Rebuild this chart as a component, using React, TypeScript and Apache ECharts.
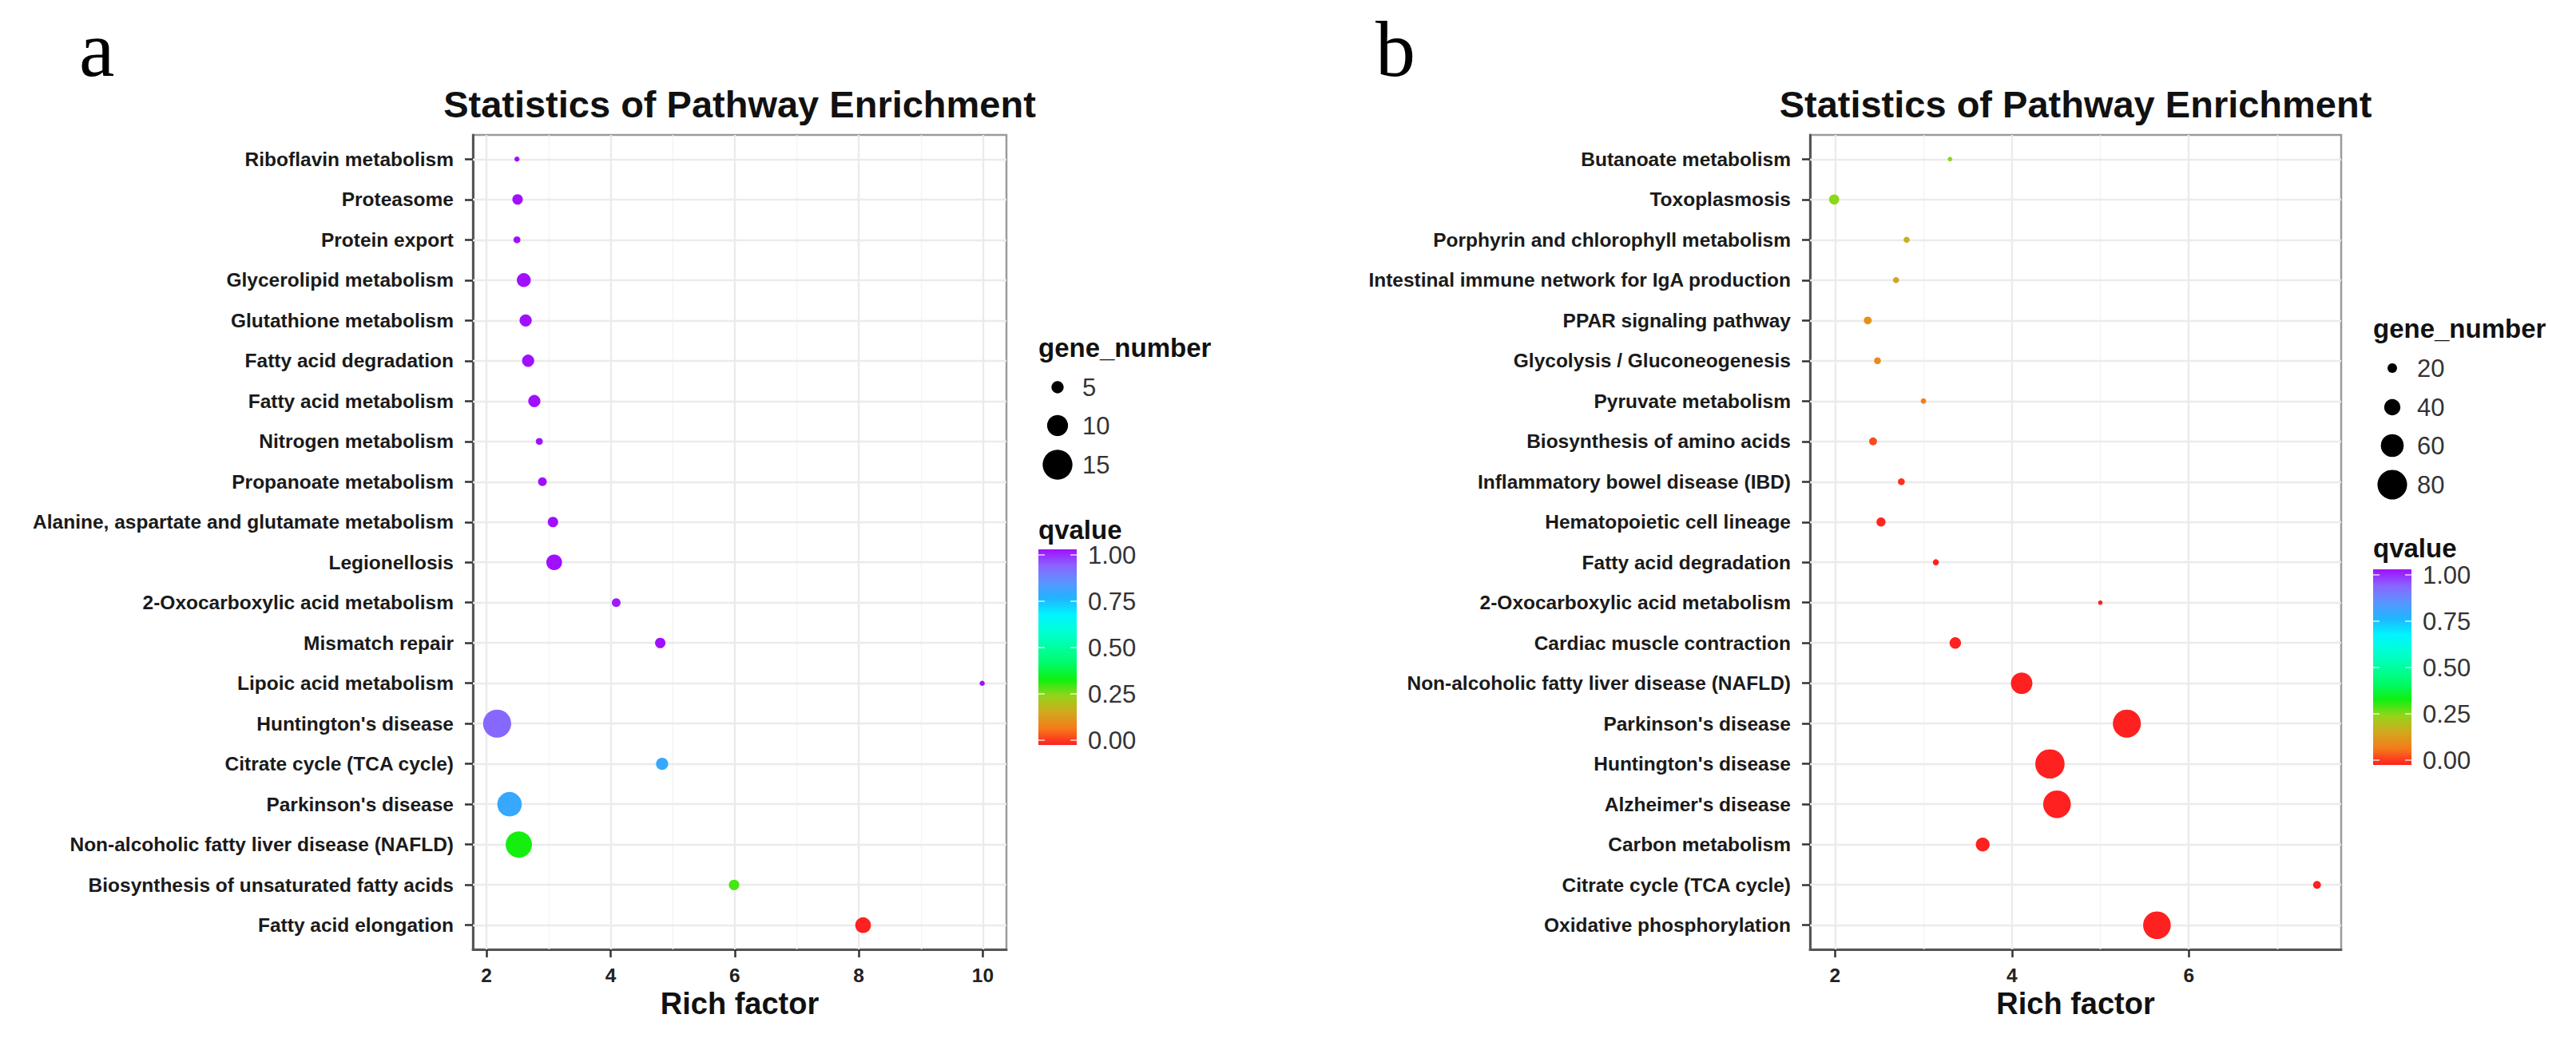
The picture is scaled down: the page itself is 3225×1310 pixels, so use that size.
import React, { useEffect, useRef } from "react";
import * as echarts from "echarts";

// ---------------- data ----------------
const categoriesA = [
  "Riboflavin metabolism",
  "Proteasome",
  "Protein export",
  "Glycerolipid metabolism",
  "Glutathione metabolism",
  "Fatty acid degradation",
  "Fatty acid metabolism",
  "Nitrogen metabolism",
  "Propanoate metabolism",
  "Alanine, aspartate and glutamate metabolism",
  "Legionellosis",
  "2-Oxocarboxylic acid metabolism",
  "Mismatch repair",
  "Lipoic acid metabolism",
  "Huntington's disease",
  "Citrate cycle (TCA cycle)",
  "Parkinson's disease",
  "Non-alcoholic fatty liver disease (NAFLD)",
  "Biosynthesis of unsaturated fatty acids",
  "Fatty acid elongation",
];
const richFactorA = [2.49, 2.5, 2.49, 2.6, 2.63, 2.67, 2.77, 2.85, 2.9, 3.07, 3.09, 4.09, 4.8, 9.99, 2.17, 4.83, 2.37, 2.52, 5.99, 8.07];
const geneNumberA = [1, 4, 2, 6, 5, 5, 5, 2, 3, 4, 7, 3, 4, 1, 14, 5, 12, 13, 4, 7];
const qvalueA = [1, 1, 1, 1, 1, 1, 1, 1, 1, 1, 1, 0.99, 1, 1, 0.91, 0.78, 0.78, 0.33, 0.3, 0.0];

const categoriesB = [
  "Butanoate metabolism",
  "Toxoplasmosis",
  "Porphyrin and chlorophyll metabolism",
  "Intestinal immune network for IgA production",
  "PPAR signaling pathway",
  "Glycolysis / Gluconeogenesis",
  "Pyruvate metabolism",
  "Biosynthesis of amino acids",
  "Inflammatory bowel disease (IBD)",
  "Hematopoietic cell lineage",
  "Fatty acid degradation",
  "2-Oxocarboxylic acid metabolism",
  "Cardiac muscle contraction",
  "Non-alcoholic fatty liver disease (NAFLD)",
  "Parkinson's disease",
  "Huntington's disease",
  "Alzheimer's disease",
  "Carbon metabolism",
  "Citrate cycle (TCA cycle)",
  "Oxidative phosphorylation",
];
const richFactorB = [3.3, 1.99, 2.81, 2.69, 2.37, 2.48, 3.0, 2.43, 2.75, 2.52, 3.14, 5.0, 3.36, 4.11, 5.3, 4.43, 4.51, 3.67, 7.45, 5.64];
const geneNumberB = [5, 22, 10, 10, 15, 12, 8, 15, 12, 19, 10, 5, 26, 56, 75, 79, 74, 33, 15, 74];
const qvalueB = [0.255, 0.255, 0.18, 0.16, 0.125, 0.11, 0.095, 0.04, 0.015, 0.005, 0, 0, 0, 0, 0, 0, 0, 0, 0, 0];

const xMajorTicksA = [2, 4, 6, 8, 10];
const xMinorTicksA = [3, 5, 7, 9];
const xMajorTicksB = [2, 4, 6];
const xMinorTicksB = [3, 5, 7];

const sizeBreaksA = [5, 10, 15];
const sizeBreaksB = [20, 40, 60, 80];
const qvalueBreaks = [1, 0.75, 0.5, 0.25, 0];

const qvalueColors = [
  "#FF2020", "#F57A1A", "#D2A81E", "#96D41A", "#10F010", "#00FA6A", "#00FFA0",
  "#00FFD6", "#00F4FF", "#20B4FF", "#5C94FF", "#8A64FF", "#A010FF",
];

// ---------------- styles / layout ----------------
const FONT = '"Liberation Sans", Arial, Helvetica, sans-serif';
const SERIF = '"Liberation Serif", "Times New Roman", serif';
const SIZE_A = { base: 4.3, slope: 2.2 };
const SIZE_B = { base: 3.5, slope: 0.42 };

const PANEL_A = {
  left: 592, top: 169, width: 668, height: 1020,
  legendX: 1300, sizeTitleY: 435.6, sizeRowY: [485, 533, 582],
  qTitleY: 663.6, barTop: 688, barH: 245, q1Y: 695, q0Y: 927,
  letter: "a", letterX: 99,
};
const PANEL_B = {
  left: 2266, top: 169, width: 665, height: 1020,
  legendX: 2971, sizeTitleY: 411.6, sizeRowY: [461, 510, 558, 607],
  qTitleY: 686.6, barTop: 713, barH: 245, q1Y: 720, q0Y: 952,
  letter: "b", letterX: 1722,
};

function sizeOf(g: number, s: { base: number; slope: number }) {
  return s.base + s.slope * g;
}

function xRange(arr: number[]) {
  const mn = Math.min(...arr);
  const mx = Math.max(...arr);
  const pad = 0.05 * (mx - mn);
  return [mn - pad, mx + pad];
}

function gridLineData(cats: string[], major: number[], minor: number[]) {
  const majorStyle = { color: "#EBEBEB", width: 2.4, type: "solid" };
  const minorStyle = { color: "#F4F4F4", width: 1.4, type: "solid" };
  return [
    ...minor.map((v) => ({ xAxis: v, lineStyle: minorStyle })),
    ...major.map((v) => ({ xAxis: v, lineStyle: majorStyle })),
    ...cats.map((_, i) => ({ yAxis: i, lineStyle: majorStyle })),
  ];
}

function buildAxes(idx: number, cats: string[], rich: number[], major: number[]) {
  const [mn, mx] = xRange(rich);
  const yIdx = cats.map((_, i) => i);
  const xAxis = {
    gridIndex: idx,
    type: "value",
    min: mn,
    max: mx,
    axisLine: { show: true, onZero: false, lineStyle: { color: "#555555", width: 3 } },
    axisTick: { show: true, length: 10, customValues: major, lineStyle: { color: "#333333", width: 2.5 } },
    axisLabel: {
      customValues: major,
      fontSize: 24.5,
      fontWeight: "bold",
      fontFamily: FONT,
      color: "#222222",
      margin: 20,
      lineHeight: 24,
    },
    splitLine: { show: false },
    name: "Rich factor",
    nameLocation: "middle",
    nameGap: 47,
    nameTextStyle: { fontSize: 38, fontWeight: "bold", fontFamily: FONT, color: "#111111", lineHeight: 38 },
  };
  const yAxis = {
    gridIndex: idx,
    type: "value",
    inverse: true,
    min: -0.6,
    max: cats.length - 1 + 0.6,
    axisLine: { show: true, onZero: false, lineStyle: { color: "#555555", width: 3 } },
    axisTick: { show: true, length: 10, customValues: yIdx, lineStyle: { color: "#333333", width: 2.5 } },
    axisLabel: {
      customValues: yIdx,
      formatter: (v: number) => cats[Math.round(v)] ?? "",
      fontSize: 24.5,
      fontWeight: "bold",
      fontFamily: FONT,
      color: "#1A1A1A",
      margin: 24,
    },
    splitLine: { show: false },
  };
  return { xAxis, yAxis };
}

function buildSeries(idx: number, cats: string[], rich: number[], genes: number[], q: number[], size: { base: number; slope: number }, major: number[], minor: number[]) {
  return {
    type: "scatter",
    xAxisIndex: idx,
    yAxisIndex: idx,
    z: 3,
    data: cats.map((c, i) => [rich[i], i, genes[i], q[i], c]),
    symbol: "circle",
    symbolSize: (v: number[]) => sizeOf(v[2], size),
    itemStyle: { opacity: 1 },
    markLine: {
      silent: true,
      z: 1,
      symbol: ["none", "none"],
      label: { show: false },
      emphasis: { disabled: true },
      data: gridLineData(cats, major, minor),
    },
  };
}

function legendGraphics(p: typeof PANEL_A, breaks: number[], size: { base: number; slope: number }) {
  const els: any[] = [];
  const plotCenter = p.left + p.width / 2;
  els.push({
    type: "text",
    x: plotCenter,
    y: 130.7,
    style: { text: "Statistics of Pathway Enrichment", fontSize: 47, fontWeight: "bold", fontFamily: FONT, fill: "#111111", align: "center", verticalAlign: "middle" },
  });
  els.push({
    type: "text",
    x: p.letterX,
    y: 61,
    style: { text: p.letter, fontSize: 100, fontFamily: SERIF, fill: "#000000", align: "left", verticalAlign: "middle" },
  });
  els.push({
    type: "text",
    x: p.legendX,
    y: p.sizeTitleY,
    style: { text: "gene_number", fontSize: 33, fontWeight: "bold", fontFamily: FONT, fill: "#111111", align: "left", verticalAlign: "middle" },
  });
  breaks.forEach((b, i) => {
    els.push({
      type: "circle",
      shape: { cx: p.legendX + 24, cy: p.sizeRowY[i], r: sizeOf(b, size) / 2 },
      style: { fill: "#000000" },
    });
    els.push({
      type: "text",
      x: p.legendX + 55,
      y: p.sizeRowY[i],
      style: { text: String(b), fontSize: 31, fontFamily: FONT, fill: "#333333", align: "left", verticalAlign: "middle" },
    });
  });
  els.push({
    type: "text",
    x: p.legendX,
    y: p.qTitleY,
    style: { text: "qvalue", fontSize: 33, fontWeight: "bold", fontFamily: FONT, fill: "#111111", align: "left", verticalAlign: "middle" },
  });
  const stops = qvalueColors.map((c, i) => ({ offset: i / (qvalueColors.length - 1), color: c }));
  els.push({
    type: "rect",
    shape: { x: p.legendX, y: p.barTop, width: 48, height: p.barH },
    style: { fill: { type: "linear", x: 0, y: 1, x2: 0, y2: 0, colorStops: stops } },
  });
  qvalueBreaks.forEach((v) => {
    const y = p.q0Y - v * (p.q0Y - p.q1Y);
    els.push({
      type: "line",
      shape: { x1: p.legendX, y1: y, x2: p.legendX + 8, y2: y },
      style: { stroke: "rgba(255,255,255,0.8)", lineWidth: 1.5 },
    });
    els.push({
      type: "line",
      shape: { x1: p.legendX + 40, y1: y, x2: p.legendX + 48, y2: y },
      style: { stroke: "rgba(255,255,255,0.8)", lineWidth: 1.5 },
    });
    els.push({
      type: "text",
      x: p.legendX + 62,
      y,
      style: { text: v.toFixed(2), fontSize: 31, fontFamily: FONT, fill: "#333333", align: "left", verticalAlign: "middle" },
    });
  });
  return els;
}

export default function App() {
  const ref = useRef<HTMLDivElement>(null);
  useEffect(() => {
    document.body.style.margin = "0";
    if (!ref.current) return;
    const chart = echarts.init(ref.current, undefined, { renderer: "svg" });
    const axA = buildAxes(0, categoriesA, richFactorA, xMajorTicksA);
    const axB = buildAxes(1, categoriesB, richFactorB, xMajorTicksB);
    const option: any = {
      animation: false,
      backgroundColor: "#ffffff",
      grid: [
        { left: PANEL_A.left, top: PANEL_A.top, width: PANEL_A.width, height: PANEL_A.height, show: true, borderColor: "#9A9A9A", borderWidth: 2.5, backgroundColor: "#ffffff", containLabel: false },
        { left: PANEL_B.left, top: PANEL_B.top, width: PANEL_B.width, height: PANEL_B.height, show: true, borderColor: "#9A9A9A", borderWidth: 2.5, backgroundColor: "#ffffff", containLabel: false },
      ],
      xAxis: [axA.xAxis, axB.xAxis],
      yAxis: [axA.yAxis, axB.yAxis],
      visualMap: [
        { type: "continuous", show: false, seriesIndex: 0, dimension: 3, min: 0, max: 1, inRange: { color: qvalueColors } },
        { type: "continuous", show: false, seriesIndex: 1, dimension: 3, min: 0, max: 1, inRange: { color: qvalueColors } },
      ],
      series: [
        buildSeries(0, categoriesA, richFactorA, geneNumberA, qvalueA, SIZE_A, xMajorTicksA, xMinorTicksA),
        buildSeries(1, categoriesB, richFactorB, geneNumberB, qvalueB, SIZE_B, xMajorTicksB, xMinorTicksB),
      ],
      graphic: [...legendGraphics(PANEL_A, sizeBreaksA, SIZE_A), ...legendGraphics(PANEL_B, sizeBreaksB, SIZE_B)],
    };
    chart.setOption(option);
    return () => chart.dispose();
  }, []);
  return <div ref={ref} style={{ width: 3225, height: 1310 }} />;
}
